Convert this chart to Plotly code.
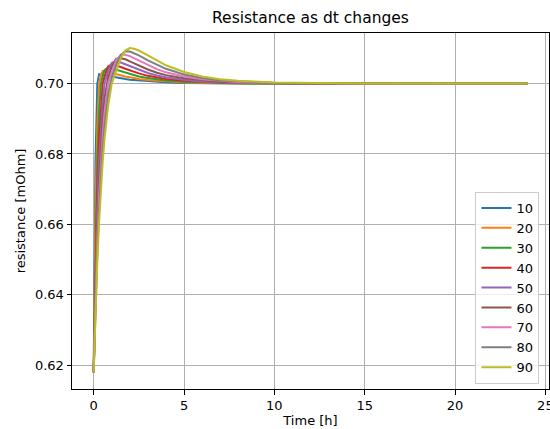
import plotly.graph_objects as go

# Time grid [h]
T = [0, 0.1, 0.2, 0.3, 0.4, 0.5, 0.6, 0.8, 1.0, 1.25, 1.5, 1.75, 2.0, 2.25, 2.5,
     3.0, 3.5, 4.0, 5.0, 6.0, 7.0, 8.0, 10.0, 12.0, 15.0, 20.0, 24.0]

# Resistance [mOhm] per dt setting
V10 = [0.6180, 0.6779, 0.7000, 0.7027, 0.7026, 0.7025, 0.7024, 0.7021, 0.7019, 0.7017,
       0.7015, 0.7013, 0.7011, 0.7010, 0.7008, 0.7006, 0.7005, 0.7004, 0.7002, 0.7001,
       0.7001, 0.7000, 0.7000, 0.7000, 0.7000, 0.7000, 0.7000]
V20 = [0.6180, 0.6641, 0.6878, 0.7000, 0.7024, 0.7036, 0.7036, 0.7033, 0.7030, 0.7026,
       0.7023, 0.7020, 0.7018, 0.7015, 0.7013, 0.7010, 0.7008, 0.7006, 0.7003, 0.7002,
       0.7001, 0.7001, 0.7000, 0.7000, 0.7000, 0.7000, 0.7000]
V30 = [0.6180, 0.6553, 0.6779, 0.6917, 0.7000, 0.7022, 0.7038, 0.7046, 0.7043, 0.7039,
       0.7034, 0.7030, 0.7027, 0.7023, 0.7020, 0.7016, 0.7012, 0.7009, 0.7005, 0.7003,
       0.7002, 0.7001, 0.7000, 0.7000, 0.7000, 0.7000, 0.7000]
V40 = [0.6180, 0.6493, 0.6702, 0.6843, 0.6937, 0.7000, 0.7020, 0.7049, 0.7055, 0.7052,
       0.7047, 0.7042, 0.7037, 0.7033, 0.7029, 0.7022, 0.7017, 0.7013, 0.7008, 0.7005,
       0.7003, 0.7002, 0.7001, 0.7000, 0.7000, 0.7000, 0.7000]
V50 = [0.6180, 0.6449, 0.6641, 0.6779, 0.6878, 0.6949, 0.7000, 0.7035, 0.7059, 0.7064,
       0.7060, 0.7055, 0.7049, 0.7044, 0.7039, 0.7030, 0.7023, 0.7018, 0.7011, 0.7006,
       0.7004, 0.7002, 0.7001, 0.7000, 0.7000, 0.7000, 0.7000]
V60 = [0.6180, 0.6416, 0.6593, 0.6726, 0.6826, 0.6901, 0.6958, 0.7017, 0.7048, 0.7071,
       0.7072, 0.7069, 0.7063, 0.7057, 0.7051, 0.7040, 0.7031, 0.7024, 0.7015, 0.7009,
       0.7005, 0.7003, 0.7001, 0.7000, 0.7000, 0.7000, 0.7000]
V70 = [0.6180, 0.6390, 0.6553, 0.6680, 0.6779, 0.6857, 0.6917, 0.7000, 0.7033, 0.7067,
       0.7082, 0.7082, 0.7078, 0.7072, 0.7065, 0.7052, 0.7041, 0.7032, 0.7020, 0.7012,
       0.7007, 0.7004, 0.7002, 0.7001, 0.7000, 0.7000, 0.7000]
V80 = [0.6180, 0.6369, 0.6520, 0.6641, 0.6738, 0.6816, 0.6878, 0.6968, 0.7017, 0.7054,
       0.7081, 0.7092, 0.7091, 0.7086, 0.7080, 0.7066, 0.7053, 0.7042, 0.7026, 0.7016,
       0.7009, 0.7006, 0.7002, 0.7001, 0.7000, 0.7000, 0.7000]
V90 = [0.6180, 0.6352, 0.6493, 0.6608, 0.6702, 0.6779, 0.6843, 0.6937, 0.7000, 0.7039,
       0.7073, 0.7094, 0.7101, 0.7099, 0.7094, 0.7080, 0.7066, 0.7052, 0.7033, 0.7020,
       0.7012, 0.7008, 0.7003, 0.7001, 0.7000, 0.7000, 0.7000]

LABELS = ["10", "20", "30", "40", "50", "60", "70", "80", "90"]
SERIES = [V10, V20, V30, V40, V50, V60, V70, V80, V90]
COLORS = ["#1f77b4", "#ff7f0e", "#2ca02c", "#d62728", "#9467bd",
          "#8c564b", "#e377c2", "#7f7f7f", "#bcbd22"]

X_TICKS = [0, 5, 10, 15, 20, 25]
Y_TICKS = [0.62, 0.64, 0.66, 0.68, 0.70]

fig = go.Figure()
for name, vals, col in zip(LABELS, SERIES, COLORS):
    fig.add_trace(go.Scatter(x=T, y=vals, mode="lines", name=name,
                             line=dict(color=col, width=2)))

axis_common = dict(
    showgrid=True, gridcolor="#b0b0b0", gridwidth=1, zeroline=False,
    showline=True, linecolor="black", linewidth=1, mirror=True,
    ticks="outside", ticklen=4.5, tickwidth=1, tickcolor="black",
    tickfont=dict(size=13, color="black"), automargin=False,
)

fig.update_layout(
    width=550, height=429,
    margin=dict(l=72, r=1, t=33, b=40),
    paper_bgcolor="white", plot_bgcolor="white",
    font=dict(family="DejaVu Sans", size=13, color="black"),
    title=dict(text="Resistance as dt changes", x=0.5, xref="paper", xanchor="center",
               y=1 - 18 / 429, yref="container", yanchor="middle",
               font=dict(size=15.5, color="black")),
    legend=dict(x=0.98, y=0.014, xanchor="right", yanchor="bottom",
                bgcolor="rgba(255,255,255,0.8)", bordercolor="#cccccc", borderwidth=1,
                font=dict(size=13, color="black")),
    xaxis=dict(range=[-1.2, 25.2], tickvals=X_TICKS, ticklabeloverflow="allow",
               title=dict(text="Time [h]", standoff=2, font=dict(size=13)),
               **axis_common),
    yaxis=dict(range=[0.61324, 0.71437], tickvals=Y_TICKS, tickformat=".2f",
               title=dict(text="resistance [mOhm]", standoff=6, font=dict(size=13)),
               **axis_common),
)

fig.write_html("out.html")
